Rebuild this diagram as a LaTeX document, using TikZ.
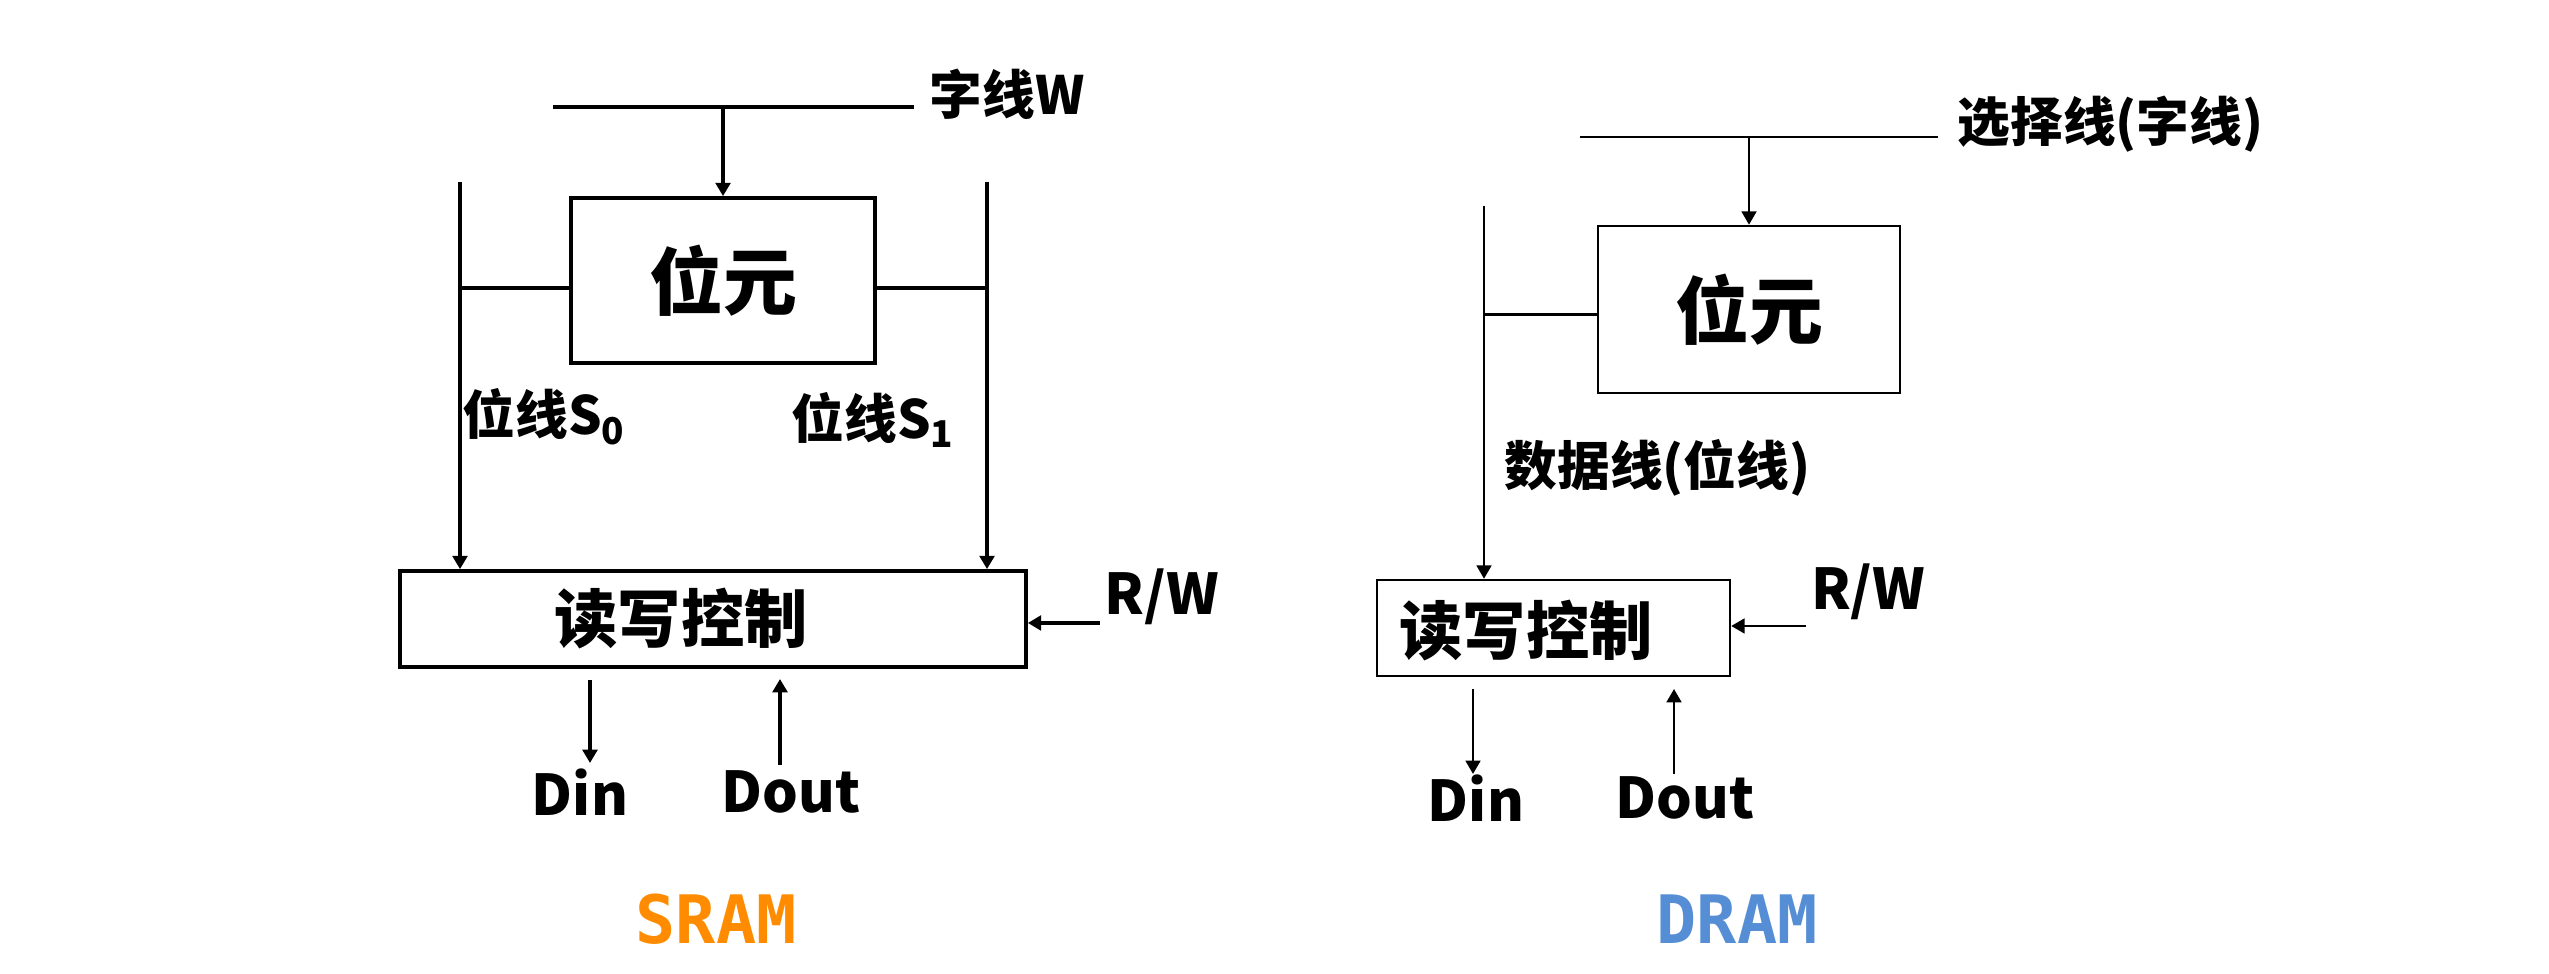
\documentclass[tikz,border=0pt]{standalone}
\usepackage{fontspec}
\setmainfont{Noto Sans CJK SC}
\newfontfamily\ramfont{DejaVu Sans Mono}
\usepackage{tikz}
\usetikzlibrary{arrows.meta,positioning}
\definecolor{sramOrange}{RGB}{255,140,0}
\definecolor{dramBlue}{RGB}{85,142,213}

\begin{document}
\begin{tikzpicture}[x=1.0cm,y=1.0cm,
  lineS/.style={line width=1.05pt},
  lineD/.style={line width=0.7pt},
  tip/.style={-{Triangle[length=3.8pt,width=4.2pt]}},
  cellbox/.style={draw, inner sep=0pt, font=\bfseries\fontsize{21}{25}\selectfont},
  rwbox/.style={draw, inner sep=0pt},
  rwtext/.style={inner sep=0pt, font=\bfseries\fontsize{18}{22}\selectfont},
  linelbl/.style={inner sep=0pt, anchor=west, font=\bfseries\fontsize{15}{18}\selectfont},
  iolbl/.style={inner sep=0pt, font=\bfseries\fontsize{16}{19}\selectfont},
  ramlbl/.style={inner sep=0pt, font=\ramfont\bfseries\fontsize{19}{23}\selectfont}]
\useasboundingbox (0,0) rectangle (25.49,9.74);

% SRAM
\node[cellbox, lineS, minimum width=3.04cm, minimum height=1.65cm] (cellS) at (7.23,6.935) {位元};
\node[rwbox, lineS, minimum width=6.26cm, minimum height=0.96cm] (rwS) at (7.13,3.55) {};
\node[rwtext] (rwS-txt) at (6.81,3.55) {读写控制};

\coordinate (wlS-l) at (5.53,8.67);
\coordinate (wlS-r) at (9.14,8.67);
\draw[lineS] (wlS-l) -- (wlS-r);
\node[linelbl] (wlS-lbl) at (9.29,8.80) {字线W};
\draw[lineS, tip] (wlS-l -| cellS.north) -- (cellS.north);

\coordinate (blS0) at (4.60,7.92);
\coordinate (blS1) at (9.87,7.92);
\draw[lineS, tip] (blS0) -- (blS0 |- rwS.north);
\draw[lineS, tip] (blS1) -- (blS1 |- rwS.north);
\draw[lineS] ([yshift=-0.075cm]cellS.west) -- ([yshift=-0.075cm]cellS.west -| blS0);
\draw[lineS] ([yshift=-0.075cm]cellS.east) -- ([yshift=-0.075cm]cellS.east -| blS1);
\node[linelbl] (blS0-lbl) at (4.62,5.57) {位线S\textsubscript{0}};
\node[linelbl] (blS1-lbl) at (7.91,5.54) {位线S\textsubscript{1}};

\node[iolbl] (rwS-lbl) at (11.62,3.77) {R/W};
\coordinate (rwS-in) at (11.00,3.51);
\draw[lineS, tip] (rwS-in) -- (rwS-in -| rwS.east);

\node[iolbl] (dinS) at (5.80,1.82) {Din};
\node[iolbl] (doutS) at (7.91,1.82) {Dout};
\coordinate (dinS-a) at (5.90,2.94);
\coordinate (dinS-b) at (5.90,2.11);
\coordinate (doutS-a) at (7.80,2.09);
\coordinate (doutS-b) at (7.80,2.95);
\draw[lineS, tip] (dinS-a) -- (dinS-b);
\draw[lineS, tip] (doutS-a) -- (doutS-b);

\node[ramlbl, text=sramOrange] (sram) at (7.16,0.55) {SRAM};

% DRAM
\node[cellbox, lineD, minimum width=3.02cm, minimum height=1.67cm] (cellD) at (17.49,6.645) {位元};
\node[rwbox, lineD, minimum width=3.53cm, minimum height=0.96cm] (rwD) at (15.535,3.46) {};
\node[rwtext] (rwD-txt) at (15.26,3.43) {读写控制};

\coordinate (slD-l) at (15.80,8.37);
\coordinate (slD-r) at (19.38,8.37);
\draw[lineD] (slD-l) -- (slD-r);
\node[linelbl] (slD-lbl) at (19.57,8.50) {选择线(字线)};
\draw[lineD, tip] (slD-l -| cellD.north) -- (cellD.north);

\coordinate (dlD) at (14.84,7.68);
\draw[lineD, tip] (dlD) -- (dlD |- rwD.north);
\draw[lineD] ([yshift=-0.05cm]cellD.west) -- ([yshift=-0.05cm]cellD.west -| dlD);
\node[linelbl] (dlD-lbl) at (15.04,5.06) {数据线(位线)};

\node[iolbl] (rwD-lbl) at (18.68,3.82) {R/W};
\coordinate (rwD-in) at (18.06,3.48);
\draw[lineD, tip] (rwD-in) -- (rwD-in -| rwD.east);

\node[iolbl] (dinD) at (14.76,1.76) {Din};
\node[iolbl] (doutD) at (16.85,1.76) {Dout};
\coordinate (dinD-a) at (14.73,2.85);
\coordinate (dinD-b) at (14.73,2.00);
\coordinate (doutD-a) at (16.74,2.00);
\coordinate (doutD-b) at (16.74,2.85);
\draw[lineD, tip] (dinD-a) -- (dinD-b);
\draw[lineD, tip] (doutD-a) -- (doutD-b);

\node[ramlbl, text=dramBlue] (dram) at (17.37,0.55) {DRAM};
\end{tikzpicture}
\end{document}
